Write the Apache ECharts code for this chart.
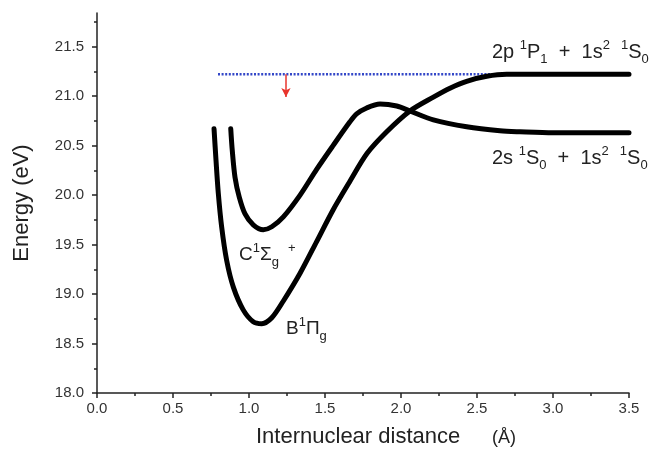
<!DOCTYPE html>
<html><head><meta charset="utf-8">
<script src="https://cdn.jsdelivr.net/npm/echarts@6/dist/echarts.min.js"></script>
<style>html,body{margin:0;padding:0;background:#fff}#c{width:654px;height:455px}</style>
</head><body><div id="c"></div>
<script>
// ---- data ----
const xTickValues = [0, 0.5, 1.0, 1.5, 2.0, 2.5, 3.0, 3.5];
const yTickValues = [18.0, 18.5, 19.0, 19.5, 20.0, 20.5, 21.0, 21.5];
const yMinorTickValues = [18.25, 18.75, 19.25, 19.75, 20.25, 20.75, 21.25, 21.75];

// B 1Pi_g curve
const curveBx = [0.770, 0.783, 0.798, 0.820, 0.853, 0.897, 0.962, 1.028, 1.084, 1.150, 1.226, 1.336, 1.445, 1.553, 1.664, 1.776, 1.906, 2.059, 2.213, 2.322, 2.432, 2.564, 2.695, 2.850, 3.000, 3.500];
const curveBE = [20.67, 20.35, 20.02, 19.68, 19.34, 19.07, 18.84, 18.72, 18.70, 18.76, 18.93, 19.21, 19.53, 19.85, 20.14, 20.42, 20.64, 20.85, 20.99, 21.08, 21.15, 21.20, 21.22, 21.22, 21.22, 21.22];

// C 1Sigma_g+ curve
const curveCx = [0.880, 0.890, 0.908, 0.936, 0.974, 1.028, 1.094, 1.150, 1.226, 1.336, 1.445, 1.553, 1.664, 1.708, 1.774, 1.862, 1.972, 2.059, 2.213, 2.432, 2.651, 2.783, 3.000, 3.500];
const curveCE = [20.67, 20.45, 20.18, 19.98, 19.81, 19.70, 19.65, 19.68, 19.78, 20.00, 20.26, 20.50, 20.74, 20.82, 20.88, 20.92, 20.90, 20.85, 20.76, 20.69, 20.65, 20.64, 20.63, 20.63];

// He resonance level (dotted) and arrow
const levelX = [0.796, 2.625];
const levelE = [21.22, 21.22];
const arrowX = [1.243, 1.243];
const arrowE = [21.22, 20.99];

const zip = (a, b) => a.map((v, i) => [v, b[i]]);
const FONT = '"Liberation Sans", Arial, sans-serif';
const AX = '#222';

const chart = echarts.init(document.getElementById('c'), null, {renderer: 'canvas'});

const supS = {fontSize: 13, fontFamily: FONT, fill: '#222', color: '#222', verticalAlign: 'top', lineHeight: 15};
const subS = {fontSize: 13, fontFamily: FONT, fill: '#222', color: '#222', verticalAlign: 'bottom', lineHeight: 15};

function richText(x, y, text, size, plusPad) {
  return {
    type: 'text', x: x, y: y, z: 100,
    style: {
      text: text,
      fill: '#222',
      font: size + 'px ' + FONT,
      lineHeight: 27,
      verticalAlign: 'middle',
      align: 'left',
      rich: {
        b: {fontSize: size, fontFamily: FONT, fill: '#222', lineHeight: 27, verticalAlign: 'middle'},
        sup: supS,
        sub: subS,
        plus: Object.assign({}, supS, {padding: [0, 0, 0, plusPad || 0]})
      }
    }
  };
}

chart.setOption({
  animation: false,
  backgroundColor: '#fff',
  grid: {left: 97, right: 25, top: 13, bottom: 62, containLabel: false, outerBoundsMode: 'none'},
  xAxis: {
    type: 'value', min: 0, max: 3.5, interval: 0.5,
    axisLine: {show: true, onZero: false, lineStyle: {color: AX, width: 1.5}},
    axisTick: {show: true, inside: false, length: 5, lineStyle: {color: AX, width: 1.5}},
    minorTick: {show: true, splitNumber: 2, length: 3, lineStyle: {color: AX, width: 1.5}},
    splitLine: {show: false}, minorSplitLine: {show: false},
    axisLabel: {fontSize: 15, color: '#333', fontFamily: FONT, margin: 8, formatter: v => v.toFixed(1)}
  },
  yAxis: [{
    type: 'value', min: 18, max: 21.84, position: 'left',
    axisLine: {show: true, onZero: false, lineStyle: {color: AX, width: 1.5}},
    axisTick: {show: true, inside: false, length: 5, customValues: yTickValues, lineStyle: {color: AX, width: 1.5}},
    splitLine: {show: false},
    axisLabel: {fontSize: 15, color: '#333', fontFamily: FONT, margin: 13, customValues: yTickValues, formatter: v => v.toFixed(1)},
    name: 'Energy (eV)', nameLocation: 'middle', nameGap: 64,
    nameTextStyle: {fontFamily: FONT, fontSize: 22, color: '#222'}
  }, {
    type: 'value', min: 18, max: 21.84, position: 'left', offset: 0,
    axisLine: {show: false},
    axisTick: {show: true, inside: false, length: 3, customValues: yMinorTickValues, lineStyle: {color: AX, width: 1.5}},
    splitLine: {show: false},
    axisLabel: {show: false}
  }],
  series: [
    {
      name: 'level', type: 'line', data: zip(levelX, levelE), showSymbol: false, symbol: 'none', z: 1,
      lineStyle: {color: '#3347c8', width: 2.5, type: [2, 1.6]},
      markLine: {
        silent: true, symbol: ['none', 'arrow'], symbolSize: [7, 9], label: {show: false},
        lineStyle: {color: '#e8342c', width: 1.5, type: 'solid'},
        data: [[{coord: [arrowX[0], arrowE[0]]}, {coord: [arrowX[1], arrowE[1]]}]]
      }
    },
    {
      name: 'B', type: 'line', data: zip(curveBx, curveBE), showSymbol: false, symbol: 'none', z: 3,
      smooth: 0.3,
      lineStyle: {color: '#000', width: 5, cap: 'round', join: 'round'}
    },
    {
      name: 'C', type: 'line', data: zip(curveCx, curveCE), showSymbol: false, symbol: 'none', z: 3,
      smooth: 0.3,
      lineStyle: {color: '#000', width: 5, cap: 'round', join: 'round'}
    }
  ],
  graphic: [
    richText(492, 52, '{b|2p }{sup|1}{b|P}{sub|1}{b|  +  1s}{sup|2}{b|  }{sup|1}{b|S}{sub|0}', 20),
    richText(492, 158, '{b|2s }{sup|1}{b|S}{sub|0}{b|  +  1s}{sup|2}{b|  }{sup|1}{b|S}{sub|0}', 20),
    richText(239, 255, '{b|C}{sup|1}{b|Σ}{sub|g}{plus|+}', 19, 9),
    richText(286, 329, '{b|B}{sup|1}{b|Π}{sub|g}', 19),
    {type: 'text', x: 256, y: 437, z: 100, style: {text: 'Internuclear distance', font: '22px ' + FONT, fill: '#222', verticalAlign: 'middle', align: 'left'}},
    {type: 'text', x: 492, y: 438, z: 100, style: {text: '(Å)', font: '18px ' + FONT, fill: '#222', verticalAlign: 'middle', align: 'left'}}
  ]
});
</script>
</body></html>
